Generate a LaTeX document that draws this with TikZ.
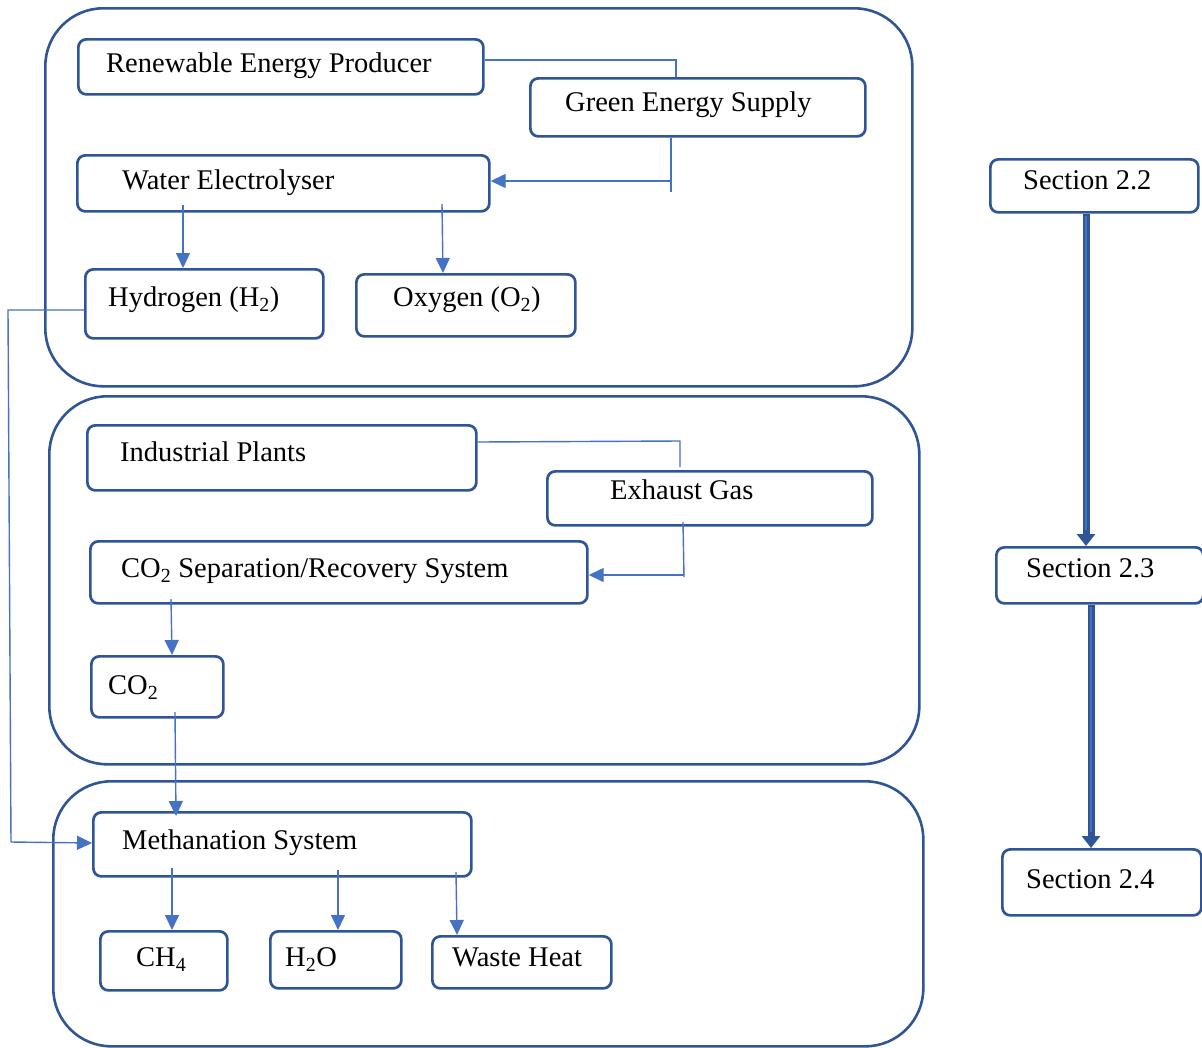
\documentclass[tikz,border=0pt]{standalone}
\usepackage{fontspec}
\setmainfont{Liberation Serif}
\usetikzlibrary{arrows.meta}
\definecolor{boxblue}{HTML}{2F5597}
\definecolor{lineblue}{HTML}{4472C4}
\definecolor{secblue}{HTML}{2F5597}
\tikzset{
  container/.style={draw=boxblue, line width=2.6pt, rounded corners=58pt, anchor=north west, inner sep=0pt},
  box/.style={draw=boxblue, line width=2.7pt, rounded corners=8pt, anchor=north west, inner sep=0pt, fill=white},
  lbl/.style={anchor=base west, inner sep=0pt, font=\fontsize{28.5}{34}\selectfont},
  conn/.style={draw=lineblue, line width=1.4pt},
  arr/.style={conn, -{Triangle[length=15pt,width=14pt]}},
  secarr/.style={draw=secblue, line width=7pt, -{Triangle[length=12pt,width=18pt]}},
  secin/.style={draw=lineblue, line width=2.6pt},
}
\begin{document}
\begin{tikzpicture}[x=1pt,y=-1pt]
\useasboundingbox (0,0) rectangle (1202,1047);
% containers
\node[container, minimum width=867pt, minimum height=378pt] (c1) at (44,7) {};
\node[container, minimum width=870pt, minimum height=368pt] (c2) at (48,395) {};
\node[container, minimum width=870pt, minimum height=265pt] (c3) at (52,780) {};
% boxes
\node[box, minimum width=405pt, minimum height=55pt] (rep) at (77,38) {};
\node[box, minimum width=335pt, minimum height=58pt] (ges) at (529,77) {};
\node[box, minimum width=412pt, minimum height=56pt] (we) at (76,154) {};
\node[box, minimum width=238pt, minimum height=69pt] (h2) at (84,268) {};
\node[box, minimum width=219pt, minimum height=62pt] (o2) at (355,273) {};
\node[box, minimum width=389pt, minimum height=65pt] (ip) at (86,424) {};
\node[box, minimum width=325pt, minimum height=54pt] (eg) at (546,470) {};
\node[box, minimum width=497pt, minimum height=62pt] (sep) at (89,540) {};
\node[box, minimum width=132pt, minimum height=61pt] (co2) at (90,655) {};
\node[box, minimum width=378pt, minimum height=64pt] (meth) at (92,811) {};
\node[box, minimum width=127pt, minimum height=59pt] (ch4) at (99,930) {};
\node[box, minimum width=131pt, minimum height=57pt] (h2o) at (269,930) {};
\node[box, minimum width=179pt, minimum height=52pt] (wh) at (431,935) {};
\node[box, minimum width=208pt, minimum height=53pt] (s22) at (989,158) {};
\node[box, minimum width=207pt, minimum height=56pt] (s23) at (995,546) {};
\node[box, minimum width=199pt, minimum height=66pt] (s24) at (1001,848) {};
% labels
\node[lbl] (trep) at (106,72.5) {Renewable Energy Producer};
\node[lbl] (tges) at (565,111.5) {Green Energy Supply};
\node[lbl] (twe) at (122,189.5) {Water Electrolyser};
\node[lbl] (th2) at (108,306.5) {Hydrogen (H\textsubscript{2})};
\node[lbl] (to2) at (393,306.5) {Oxygen (O\textsubscript{2})};
\node[lbl] (tip) at (120,461.5) {Industrial Plants};
\node[lbl] (teg) at (610,499.5) {Exhaust Gas};
\node[lbl] (tsep) at (121,577.5) {CO\textsubscript{2} Separation/Recovery System};
\node[lbl] (tco2) at (108,694.5) {CO\textsubscript{2}};
\node[lbl] (tmeth) at (122,849.5) {Methanation System};
\node[lbl] (tch4) at (136,966.5) {CH\textsubscript{4}};
\node[lbl] (th2o) at (285,966.5) {H\textsubscript{2}O};
\node[lbl] (twh) at (452,966.5) {Waste Heat};
\node[lbl] (ts22) at (1023,189.5) {Section 2.2};
\node[lbl] (ts23) at (1026,577.5) {Section 2.3};
\node[lbl] (ts24) at (1026,888.5) {Section 2.4};
% helper coordinates
\coordinate (j1) at (676,60);
\coordinate (j2a) at (671,192);
\coordinate (j2) at (671,181);
\coordinate (j3) at (680,441);
\coordinate (j4) at (684,575);
\coordinate (j4b) at (684,577);
\coordinate (hl) at (8,310);
\coordinate (hb) at (11,842);
% connectors
\draw[conn] (rep.east |- j1) -- (j1) -- (j1 |- ges.north);
\draw[conn] (ges.south -| j2) -- (j2a);
\draw[arr] (j2) -- (we.east |- j2);
\draw[arr] (183,205) -- (h2.north -| 183,0);
\draw[arr] (442,204) -- (o2.north -| 443,0);
\draw[conn] (h2.west |- hl) -- (hl) -- (hb);
\draw[arr] (hb) -- (meth.west |- 0,843);
\draw[conn] (ip.east |- 0,442) -- (j3) -- (680,467);
\draw[conn] (683,522) -- (j4b);
\draw[arr] (j4) -- (sep.east |- j4);
\draw[arr] (171,599) -- (co2.north -| 172,0);
\draw[arr] (175,712) -- (176,816);
\draw[arr] (172,868) -- (ch4.north -| 172,0);
\draw[arr] (338,870) -- (h2o.north -| 338,0);
\draw[arr] (456,872) -- (wh.north -| 457,0);
\draw[secarr] (s22.south -| 1086,0) -- (s23.north -| 1086,0);
\draw[secin] ([yshift=-2pt]s22.south -| 1086,0) -- ([yshift=16pt]s23.north -| 1086,0);
\draw[secarr] (s23.south -| 1091,0) -- (s24.north -| 1091,0);
\draw[secin] ([yshift=-2pt]s23.south -| 1091,0) -- ([yshift=16pt]s24.north -| 1091,0);
\end{tikzpicture}
\end{document}
